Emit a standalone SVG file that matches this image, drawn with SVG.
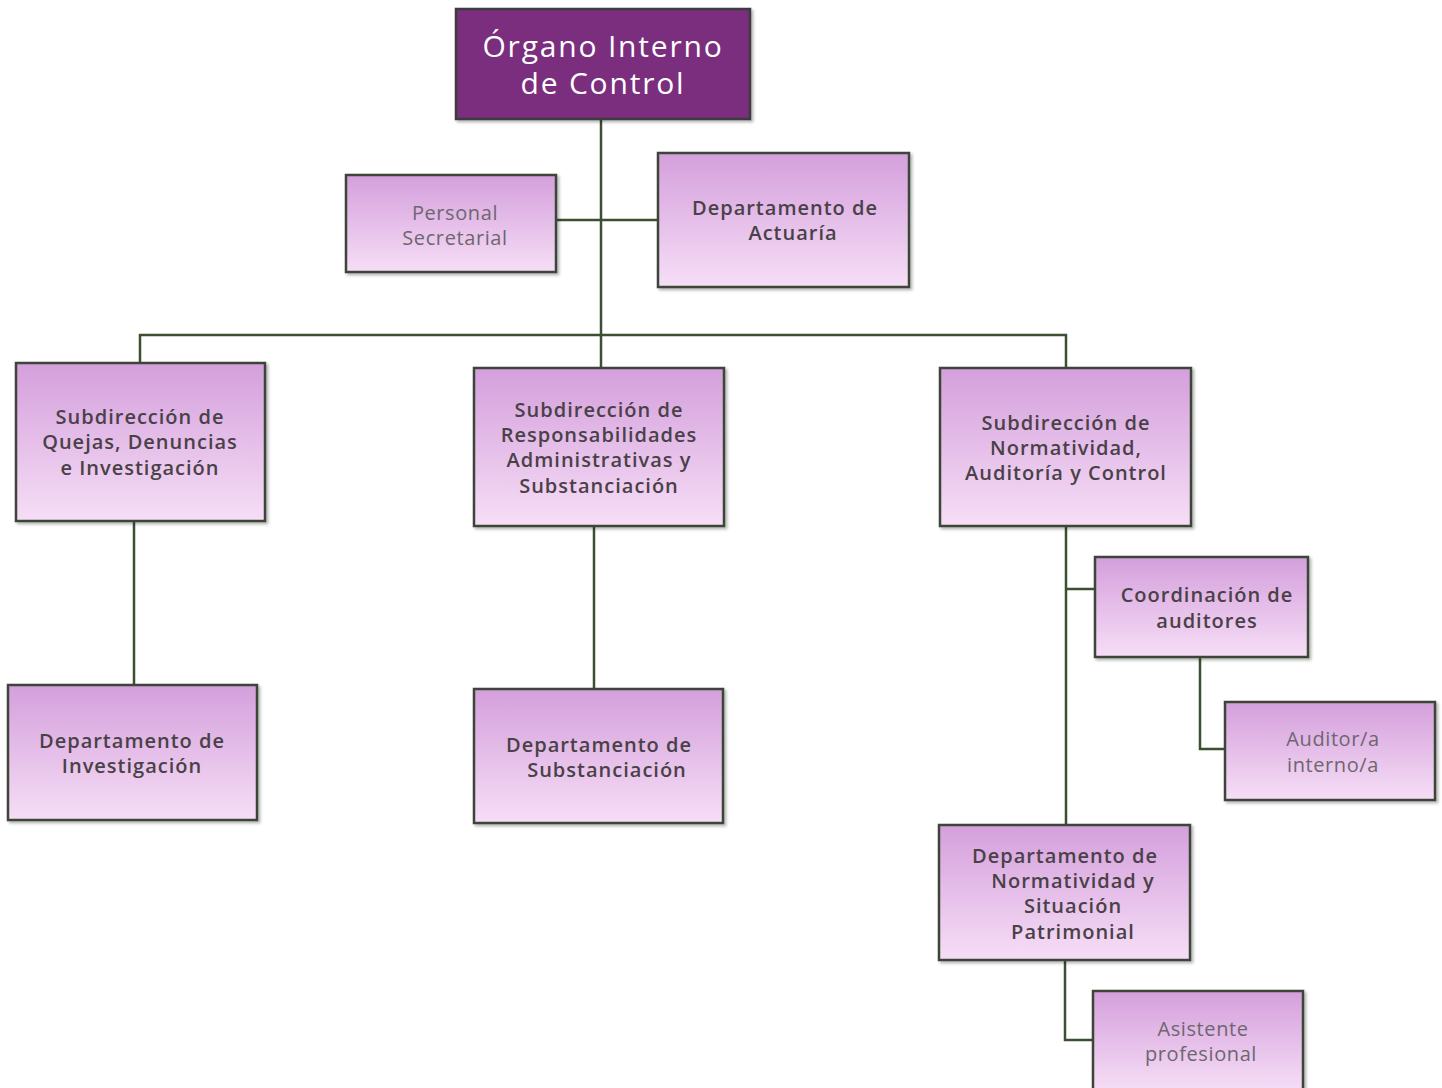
<svg xmlns="http://www.w3.org/2000/svg" width="1442" height="1088" viewBox="0 0 1442 1088">
<defs>
<linearGradient id="g" x1="0" y1="0" x2="0" y2="1">
<stop offset="0" stop-color="#d49fdc"/>
<stop offset="1" stop-color="#f6def6"/>
</linearGradient>
<filter id="sh" x="-5%" y="-5%" width="115%" height="115%">
<feDropShadow dx="2" dy="2" stdDeviation="1.5" flood-color="#000" flood-opacity="0.3"/>
</filter>
</defs>
<style>
.box{fill:url(#g);stroke:#3c4538;stroke-width:2.5;filter:url(#sh)}
.top{fill:#7a2e7d;stroke:#3c3a3a;stroke-width:2.5;filter:url(#sh)}
.b{font-family:"Open Sans","Liberation Sans",sans-serif;font-weight:600;font-size:20px;fill:#4a4148;text-anchor:middle;letter-spacing:1px}
.r{font-family:"Open Sans","Liberation Sans",sans-serif;font-weight:400;font-size:20px;fill:#6e6670;text-anchor:middle;letter-spacing:0.6px}
.w{font-family:"Open Sans","Liberation Sans",sans-serif;font-weight:400;font-size:30px;fill:#ffffff;text-anchor:middle;letter-spacing:1.8px}
.c{fill:none;stroke:#3a5030;stroke-width:2.5}
</style>
<rect width="1442" height="1088" fill="#ffffff"/>
<g id="connectors">
<path class="c" d="M601 119 V368"/>
<path class="c" d="M556 220 H658"/>
<path class="c" d="M140 363 V335 H1066 V368"/>
<path class="c" d="M134 521 V685"/>
<path class="c" d="M594 526 V689"/>
<path class="c" d="M1066 526 V825"/>
<path class="c" d="M1066 589 H1095"/>
<path class="c" d="M1200 657 V749 H1225"/>
<path class="c" d="M1065 960 V1040 H1093"/>
</g>
<g id="organo">
<rect class="top" x="456" y="9" width="294" height="110"/>
<text class="w" x="603" y="57">Órgano Interno</text>
<text class="w" x="603" y="94">de Control</text>
</g>
<g id="personal">
<rect class="box" x="346" y="175" width="210" height="97"/>
<text class="r" x="455" y="220">Personal</text>
<text class="r" x="455" y="245">Secretarial</text>
</g>
<g id="actuaria">
<rect class="box" x="658" y="153" width="251" height="134"/>
<text class="b" x="785" y="215">Departamento de</text>
<text class="b" x="793" y="240">Actuaría</text>
</g>
<g id="quejas">
<rect class="box" x="16" y="363" width="249" height="158"/>
<text class="b" x="140" y="424">Subdirección de</text>
<text class="b" x="140" y="449">Quejas, Denuncias</text>
<text class="b" x="140" y="475">e Investigación</text>
</g>
<g id="responsabilidades">
<rect class="box" x="474" y="368" width="250" height="158"/>
<text class="b" x="599" y="417">Subdirección de</text>
<text class="b" x="599" y="442">Responsabilidades</text>
<text class="b" x="599" y="467">Administrativas y</text>
<text class="b" x="599" y="493">Substanciación</text>
</g>
<g id="normatividad">
<rect class="box" x="940" y="368" width="251" height="158"/>
<text class="b" x="1066" y="430">Subdirección de</text>
<text class="b" x="1066" y="455">Normatividad,</text>
<text class="b" x="1066" y="480">Auditoría y Control</text>
</g>
<g id="investigacion">
<rect class="box" x="8" y="685" width="249" height="135"/>
<text class="b" x="132" y="748">Departamento de</text>
<text class="b" x="132" y="773">Investigación</text>
</g>
<g id="substanciacion">
<rect class="box" x="474" y="689" width="249" height="134"/>
<text class="b" x="599" y="752">Departamento de</text>
<text class="b" x="607" y="777">Substanciación</text>
</g>
<g id="coordinacion">
<rect class="box" x="1095" y="557" width="213" height="100"/>
<text class="b" x="1207" y="602">Coordinación de</text>
<text class="b" x="1207" y="628">auditores</text>
</g>
<g id="auditor">
<rect class="box" x="1225" y="702" width="210" height="98"/>
<text class="r" x="1333" y="746">Auditor/a</text>
<text class="r" x="1333" y="772">interno/a</text>
</g>
<g id="depto-normatividad">
<rect class="box" x="939" y="825" width="251" height="135"/>
<text class="b" x="1065" y="863">Departamento de</text>
<text class="b" x="1073" y="888">Normatividad y</text>
<text class="b" x="1073" y="913">Situación</text>
<text class="b" x="1073" y="939">Patrimonial</text>
</g>
<g id="asistente">
<rect class="box" x="1093" y="991" width="210" height="100"/>
<text class="r" x="1203" y="1036">Asistente</text>
<text class="r" x="1201" y="1061">profesional</text>
</g>
</svg>
